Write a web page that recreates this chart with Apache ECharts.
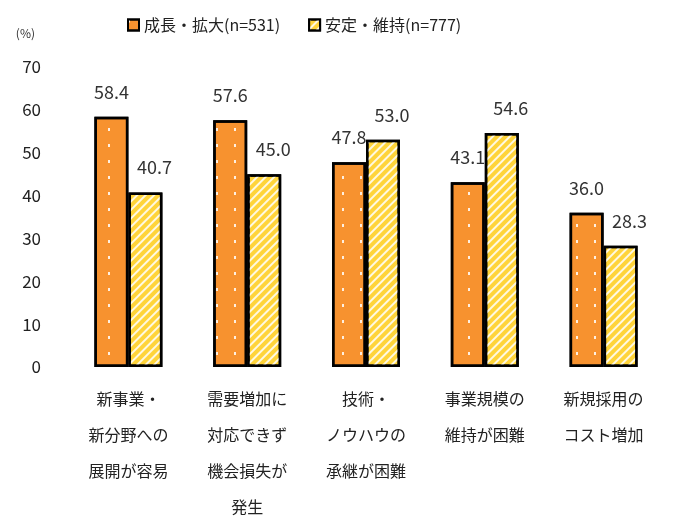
<!DOCTYPE html>
<html>
<head>
<meta charset="utf-8">
<script src="https://cdn.jsdelivr.net/npm/echarts@6/dist/echarts.min.js"></script>
<style>
  html, body { margin: 0; padding: 0; background: #fff; }
  #main { width: 675px; height: 520px; }
</style>
</head>
<body>
<div id="main"></div>
<script>
var categories = [
    '新事業・\n新分野への\n展開が容易',
    '需要増加に\n対応できず\n機会損失が\n発生',
    '技術・\nノウハウの\n承継が困難',
    '事業規模の\n維持が困難',
    '新規採用の\nコスト増加'
];
var seriesNames = ['成長・拡大(n=531)', '安定・維持(n=777)'];
var growValues = [58.4, 57.6, 47.8, 43.1, 36.0];
var stableValues = [40.7, 45.0, 53.0, 54.6, 28.3];

var chartDom = document.getElementById('main');
var myChart = echarts.init(chartDom);
var option;

var font = '"Noto Sans CJK JP", sans-serif';

option = {
    animation: false,
    textStyle: { fontFamily: font },
    legend: {
        top: 12,
        left: 122,
        icon: 'rect',
        itemWidth: 11,
        itemHeight: 11,
        itemGap: 28,
        textStyle: { fontSize: 16, color: '#222', fontFamily: font },
        data: seriesNames
    },
    grid: {
        left: 69,
        right: 12,
        top: 67,
        bottom: 153,
        outerBoundsMode: 'none',
        containLabel: false
    },
    xAxis: {
        type: 'category',
        data: categories,
        axisLine: { show: false },
        axisTick: { show: false },
        axisLabel: {
            interval: 0,
            fontSize: 16,
            lineHeight: 36,
            color: '#222',
            margin: 14,
            verticalAlign: 'top'
        }
    },
    yAxis: {
        type: 'value',
        min: 0,
        max: 70,
        interval: 10,
        name: '(%)',
        nameLocation: 'end',
        nameGap: 28,
        nameTextStyle: { fontSize: 12, color: '#333', align: 'right', padding: [0, 34, 0, 0] },
        axisLine: { show: false },
        axisTick: { show: false },
        splitLine: { show: false },
        axisLabel: { fontSize: 17, color: '#222', margin: 28 }
    },
    series: [{
        name: seriesNames[0],
        type: 'bar',
        data: growValues,
        barWidth: 34,
        barGap: '0%',
        itemStyle: {
            color: '#F7922F',
            borderColor: '#000',
            borderWidth: 2.5,
            decal: {
                symbol: 'rect',
                symbolSize: 1,
                color: 'rgba(255,255,255,0.85)',
                dashArrayX: [[2, 16]],
                dashArrayY: [3, 13],
                rotation: 0
            }
        },
        label: {
            show: true,
            position: 'top',
            distance: 16,
            fontSize: 18,
            color: '#333',
            formatter: function (p) { return p.value.toFixed(1); }
        }
    }, {
        name: seriesNames[1],
        type: 'bar',
        data: stableValues,
        barWidth: 34,
        itemStyle: {
            color: '#FFD43A',
            borderColor: '#000',
            borderWidth: 2.5,
            decal: {
                symbol: 'rect',
                color: 'rgba(255,255,255,0.85)',
                dashArrayX: [1, 0],
                dashArrayY: [2, 4],
                rotation: -Math.PI / 4
            }
        },
        label: {
            show: true,
            position: 'top',
            distance: 16,
            offset: [9, 0],
            fontSize: 18,
            color: '#333',
            formatter: function (p) { return p.value.toFixed(1); }
        }
    }]
};

option && myChart.setOption(option);
</script>
</body>
</html>
